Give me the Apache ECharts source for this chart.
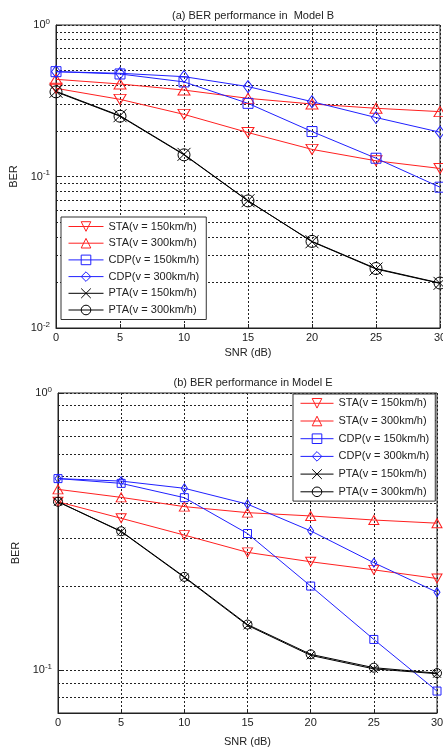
<!DOCTYPE html>
<html>
<head>
<meta charset="utf-8">
<script src="https://cdn.jsdelivr.net/npm/echarts@6/dist/echarts.min.js"></script>
<style>
  html, body { margin: 0; padding: 0; background: #fff; }
  #chart { width: 443px; height: 748px; }
</style>
</head>
<body>
<div id="chart"></div>
<script>
(function () {
  var font = "Liberation Sans";

  // SNR (dB) on x
  var snr = [0, 5, 10, 15, 20, 25, 30];
  var seriesNames = [
    "STA(v = 150km/h)",
    "STA(v = 300km/h)",
    "CDP(v = 150km/h)",
    "CDP(v = 300km/h)",
    "PTA(v = 150km/h)",
    "PTA(v = 300km/h)",
  ];

  // (a) Model B
  var staB150 = [0.382, 0.323, 0.257, 0.195, 0.151, 0.127, 0.113];
  var staB300 = [0.438, 0.408, 0.372, 0.328, 0.301, 0.282, 0.268];
  var cdpB150 = [0.492, 0.475, 0.421, 0.304, 0.198, 0.132, 0.085];
  var cdpB300 = [0.492, 0.48, 0.456, 0.392, 0.312, 0.245, 0.196];
  var ptaB150 = [0.365, 0.252, 0.14, 0.0692, 0.0371, 0.0245, 0.0197];
  var ptaB300 = [0.362, 0.25, 0.139, 0.069, 0.0373, 0.0247, 0.0198];

  // (b) Model E
  var staE150 = [0.405, 0.353, 0.307, 0.266, 0.246, 0.23, 0.214];
  var staE300 = [0.449, 0.42, 0.389, 0.37, 0.36, 0.348, 0.339];
  var cdpE150 = [0.491, 0.472, 0.419, 0.311, 0.201, 0.129, 0.084];
  var cdpE300 = [0.491, 0.481, 0.453, 0.397, 0.318, 0.244, 0.191];
  var ptaE150 = [0.405, 0.316, 0.216, 0.145, 0.113, 0.101, 0.097];
  var ptaE300 = [0.405, 0.317, 0.217, 0.146, 0.114, 0.102, 0.0975];

  // log minor grid lines (matlab style)
  var minorB = [0.02, 0.03, 0.04, 0.05, 0.06, 0.07, 0.08, 0.09, 0.2, 0.3, 0.4, 0.5, 0.6, 0.7, 0.8, 0.9];
  var minorE = [0.08, 0.09, 0.2, 0.3, 0.4, 0.5, 0.6, 0.7, 0.8, 0.9];

  var symDown = "path://M0,0L10,0L5,9Z";
  var symUp = "path://M5,0L10,9L0,9Z";
  var symSquare = "path://M0,0L10,0L10,10L0,10Z";
  var symDiamond = "path://M5,0L10,8L5,16L0,8Z";
  var symCross = "path://M0,0L10,10M10,0L0,10";
  var symCircle = "path://M0,5A5,5,0,1,1,10,5A5,5,0,1,1,0,5Z";

  var looks = [
    { color: "#ff2020", symbol: symDown, sizeA: [12, 10], sizeE: [10, 9] },
    { color: "#ff2020", symbol: symUp, sizeA: [12, 10], sizeE: [10, 9] },
    { color: "#2020ff", symbol: symSquare, sizeA: [10, 10], sizeE: [8, 8] },
    { color: "#2020ff", symbol: symDiamond, sizeA: [9, 12], sizeE: [6, 9] },
    { color: "#000", symbol: symCross, sizeA: [13, 13], sizeE: [8, 8] },
    { color: "#000", symbol: symCircle, sizeA: [12, 12], sizeE: [9, 9] },
  ];

  var dotted = { color: "#222", width: 1, type: [2, 2] };

  function makeSeries(idx, valsList, suffix, minor, sizeKey) {
    return valsList.map(function (vals, i) {
      var lk = looks[i];
      var s = {
        name: seriesNames[i] + suffix,
        type: "line",
        xAxisIndex: idx,
        yAxisIndex: idx,
        data: snr.map(function (x, k) { return [x, vals[k]]; }),
        symbol: lk.symbol,
        symbolSize: lk[sizeKey],
        showSymbol: true,
        lineStyle: { color: lk.color, width: 1 },
        itemStyle: { color: "transparent", borderColor: lk.color, borderWidth: 1 },
        emphasis: { disabled: true },
        z: 3,
      };
      if (i === 0) {
        s.markLine = {
          silent: true,
          symbol: ["none", "none"],
          label: { show: false },
          lineStyle: dotted,
          z: 1,
          data: minor.map(function (v) { return { yAxis: v }; }),
        };
      }
      return s;
    });
  }

  function logLabel(v) {
    var e = Math.round(Math.log(v) / Math.LN10);
    if (Math.abs(Math.pow(10, e) - v) > 1e-6 * v) return "";
    return "10{sup|" + e + "}";
  }

  var axisText = { fontSize: 11, color: "#222", fontFamily: font };

  function xAxis(idx, gap) {
    return {
      type: "value",
      gridIndex: idx,
      min: 0,
      max: 30,
      interval: 5,
      name: "SNR (dB)",
      nameLocation: "middle",
      nameGap: gap,
      nameTextStyle: axisText,
      axisLine: { lineStyle: { color: "#222" } },
      axisTick: { inside: true, length: 4, lineStyle: { color: "#222" } },
      axisLabel: Object.assign({ margin: 4 }, axisText),
      splitLine: { show: true, lineStyle: dotted },
    };
  }

  function yAxis(idx, min, gap) {
    return {
      type: "log",
      logBase: 10,
      gridIndex: idx,
      min: min,
      max: 1,
      name: "BER",
      nameLocation: "middle",
      nameGap: gap,
      nameRotate: 90,
      nameTextStyle: axisText,
      axisLine: { show: true, lineStyle: { color: "#222" } },
      axisTick: { inside: true, length: 4, lineStyle: { color: "#222" } },
      axisLabel: Object.assign({
        margin: 6,
        formatter: logLabel,
        rich: { sup: { fontSize: 8, fontFamily: font, color: "#222", padding: [0, 0, 7, 0] } },
      }, axisText),
      splitLine: { show: true, lineStyle: dotted },
    };
  }

  var legendBase = {
    orient: "vertical",
    itemHeight: 12,
    itemTextGap: 4,
    borderColor: "#333",
    borderWidth: 1,
    backgroundColor: "#fff",
    selectedMode: false,
    lineStyle: { width: 1 },
    itemStyle: { borderWidth: 1 },
    textStyle: { fontSize: 11, color: "#222", fontFamily: font, lineHeight: 12 },
    formatter: function (n) { return n.trim(); },
  };

  var namesE = seriesNames.map(function (n) { return n + " "; });

  var option = {
    animation: false,
    backgroundColor: "#fff",
    title: [
      {
        text: "(a) BER performance in  Model B",
        left: 248, top: 5, textAlign: "center",
        textStyle: { fontSize: 11, fontWeight: "normal", color: "#222", fontFamily: font },
      },
      {
        text: "(b) BER performance in Model E",
        left: 248, top: 372, textAlign: "center",
        textStyle: { fontSize: 11, fontWeight: "normal", color: "#222", fontFamily: font },
      },
    ],
    grid: [
      { left: 56, right: 3, top: 25, height: 303, show: true, borderColor: "#222", borderWidth: 1, outerBoundsMode: "none", containLabel: false },
      { left: 58, right: 6, top: 393, height: 320, show: true, borderColor: "#222", borderWidth: 1, outerBoundsMode: "none", containLabel: false },
    ],
    legend: [
      Object.assign({}, legendBase, {
        data: seriesNames, left: 61, top: 217, itemWidth: 35, itemGap: 4.7, padding: [3.5, 7, 3.5, 7],
      }),
      Object.assign({}, legendBase, {
        data: namesE, left: 293, top: 394, itemWidth: 33, itemGap: 5.7, padding: [3.3, 6, 3.3, 7],
      }),
    ],
    xAxis: [xAxis(0, 19), xAxis(1, 23)],
    yAxis: [yAxis(0, 0.01, 30), yAxis(1, 0.07, 30)],
    series: makeSeries(0, [staB150, staB300, cdpB150, cdpB300, ptaB150, ptaB300], "", minorB, "sizeA")
      .concat(makeSeries(1, [staE150, staE300, cdpE150, cdpE300, ptaE150, ptaE300], " ", minorE, "sizeE")),
  };

  var myChart = echarts.init(document.getElementById("chart"));
  myChart.setOption(option);
  window.addEventListener("resize", function () {
    myChart.resize();
  });
})();
</script>
</body>
</html>
